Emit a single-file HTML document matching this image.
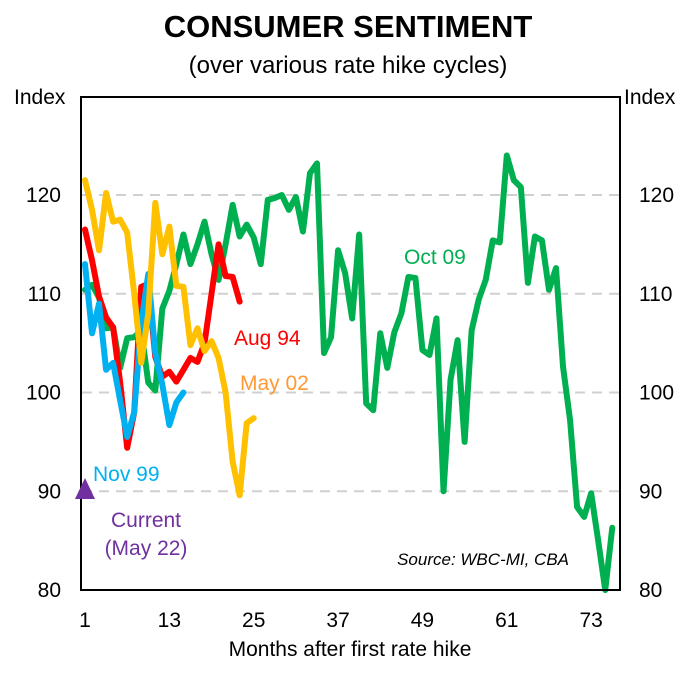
<!DOCTYPE html>
<html><head><meta charset="utf-8"><style>
body{margin:0;background:#fff;}
svg text{font-family:"Liberation Sans",Arial,sans-serif;}
</style></head><body>
<svg id="chart" width="696" height="670" xmlns="http://www.w3.org/2000/svg">
<text x="348" y="37" text-anchor="middle" font-size="31" font-weight="bold">CONSUMER SENTIMENT</text>
<text x="348" y="73" text-anchor="middle" font-size="24">(over various rate hike cycles)</text>
<text x="14" y="104" font-size="21">Index</text>
<text x="624" y="104" font-size="21">Index</text>
<g id="grid"></g>
<g id="ticks"></g>
<g id="lines"></g>
<rect x="81" y="97" width="539" height="493" fill="none" stroke="#000" stroke-width="2"/>
<polygon points="85,478 75,499 95,499" fill="#7030a0"/>
<text x="234" y="345" font-size="21" fill="#ff0000">Aug 94</text>
<text x="240" y="390" font-size="21" fill="#ff9933">May 02</text>
<text x="404" y="264" font-size="21" fill="#00b050">Oct 09</text>
<text x="93" y="481" font-size="21" fill="#00b0f0">Nov 99</text>
<text x="146" y="527" text-anchor="middle" font-size="21" fill="#7030a0">Current</text>
<text x="146" y="555" text-anchor="middle" font-size="21" fill="#7030a0">(May 22)</text>
<text x="569" y="565" text-anchor="end" font-size="17" font-style="italic">Source: WBC-MI, CBA</text>
<text x="350" y="656" text-anchor="middle" font-size="21">Months after first rate hike</text>
</svg>
<script>
const yTicks = [80, 90, 100, 110, 120];
const xTicks = [1, 13, 25, 37, 49, 61, 73];
const aug94 = [116.5,113.4,109.7,107.6,106.6,101,94.4,98,110.7,111,103.6,101.6,102.1,101.1,102.3,103.5,103.1,105,110,115,111.8,111.7,109.2];
const nov99 = [113,106,109,102.3,103,99.2,95.5,98,107,112,104,100.8,96.7,99,100];
const may02 = [121.5,118.5,114.4,120.2,117.3,117.5,116.2,110,103,108,119.2,114,116.8,110.8,110.7,104.8,106.5,104.2,105.2,103.5,100,93,89.6,96.9,97.4];
const oct09 = [110.4,110.9,109.6,106.5,106.6,102.5,105.5,105.6,106.3,101,100.2,108.5,110.3,113,116,113,115,117.3,114,111.4,115,119,115.8,117,115.7,113,119.5,119.7,120,118.5,119.8,116.3,122.2,123.2,104,105.6,114.4,112.1,107.5,116,98.9,98.2,106,102.5,106.1,108,111.7,111.6,104.3,103.8,107.5,90,101.3,105.3,95,106.3,109.4,111.4,115.4,115.2,124,121.5,120.8,111.1,115.8,115.4,110.4,112.6,102.6,97.2,88.4,87.4,89.8,85,80,86.3];

const NS='http://www.w3.org/2000/svg';
function xS(m){return 85+(m-1)*7.03;}
function yS(v){return 590-(v-80)*9.875;}
const grid=document.getElementById('grid'), ticks=document.getElementById('ticks'), lines=document.getElementById('lines');
yTicks.forEach(v=>{
  if(v>80){const l=document.createElementNS(NS,'line');
    l.setAttribute('x1',82);l.setAttribute('x2',619);l.setAttribute('y1',yS(v));l.setAttribute('y2',yS(v));
    l.setAttribute('stroke','#d0d0d0');l.setAttribute('stroke-width',2);l.setAttribute('stroke-dasharray','10,7');
    
    
    grid.appendChild(l);}
  const t=document.createElementNS(NS,'text');t.setAttribute('x',61);t.setAttribute('y',yS(v)+7);t.setAttribute('text-anchor','end');t.setAttribute('font-size','21');t.textContent=v;
  
  
  ticks.appendChild(t);
  const r=document.createElementNS(NS,'text');r.setAttribute('x',639);r.setAttribute('y',yS(v)+7);r.setAttribute('font-size','21');r.textContent=v;
  
  
  ticks.appendChild(r);
});
xTicks.forEach(m=>{
  const t=document.createElementNS(NS,'text');t.setAttribute('x',xS(m));t.setAttribute('y',627);t.setAttribute('text-anchor','middle');t.setAttribute('font-size','21');t.textContent=m;
  
  
  ticks.appendChild(t);
});
function draw(arr,color,name){
  const p=document.createElementNS(NS,'polyline');
  p.setAttribute('points',arr.map((v,i)=>xS(i+1)+','+yS(v)).join(' '));
  p.setAttribute('fill','none');p.setAttribute('stroke',color);p.setAttribute('stroke-width',6);p.setAttribute('stroke-linejoin','round');p.setAttribute('stroke-linecap','round');
  
  
  lines.appendChild(p);
}
draw(oct09,'#00b050','series-oct-09');
draw(aug94,'#ff0000','series-aug-94');
draw(nov99,'#00b0f0','series-nov-99');
draw(may02,'#ffc000','series-may-02');
</script>
</body></html>
